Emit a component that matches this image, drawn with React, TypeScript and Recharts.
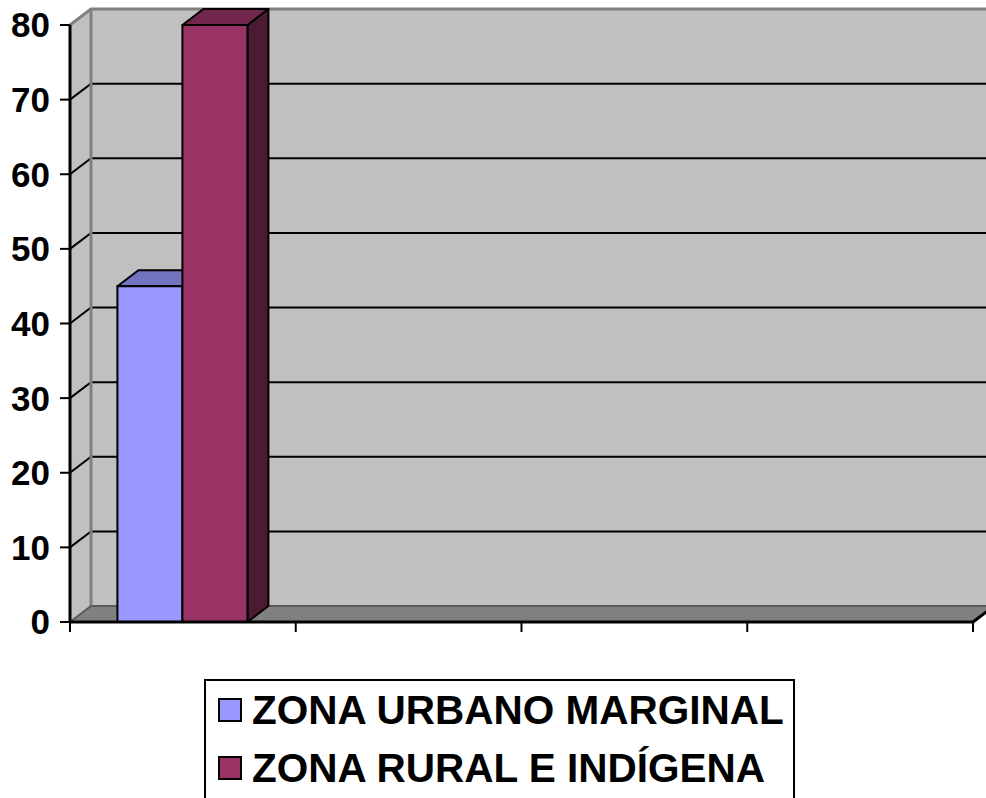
import React from "react";
import {
  BarChart,
  Bar,
  XAxis,
  YAxis,
  ReferenceArea,
  Legend,
} from "recharts";

// chart values
const CATEGORIES = ["c1", "c2", "c3", "c4"];
const URBANO = [45, null, null, null];
const RURAL = [80, null, null, null];
const Y_TICKS = [0, 10, 20, 30, 40, 50, 60, 70, 80];
const SERIES_NAMES = ["ZONA URBANO MARGINAL", "ZONA RURAL E INDÍGENA"];

const data = CATEGORIES.map((name, i) => ({
  name,
  urbano: URBANO[i],
  rural: RURAL[i],
}));

// 3d depth of the chart box
const DX = 21;
const DY = -16;
const FONT = "'Liberation Sans', Arial, sans-serif";

const COLORS = {
  urbano: { front: "#9999ff", top: "#7373bf", side: "#4d4d80" },
  rural: { front: "#993366", top: "#73264d", side: "#4d1a33" },
};

const pts = (arr: number[][]) => arr.map((p) => p.join(",")).join(" ");

const Box3D = (colors: { front: string; top: string; side: string }) =>
  (props: any) => {
    const { x, y, width: w, height: h } = props;
    if (h == null || !w || isNaN(y)) return <g />;
    return (
      <g stroke="#000" strokeWidth={2} strokeLinejoin="round">
        <polygon
          points={pts([
            [x + w, y],
            [x + w + DX, y + DY],
            [x + w + DX, y + h + DY],
            [x + w, y + h],
          ])}
          fill={colors.side}
        />
        <polygon
          points={pts([
            [x, y],
            [x + DX, y + DY],
            [x + w + DX, y + DY],
            [x + w, y],
          ])}
          fill={colors.top}
        />
        <rect x={x} y={y} width={w} height={h} fill={colors.front} />
      </g>
    );
  };

// back wall, side wall, floor, gridlines and category boundary ticks
const Walls = (props: any) => {
  const { x, y, width: w, height: h } = props;
  if (x == null || y == null) return <g />;
  const ymax = Y_TICKS[Y_TICKS.length - 1];
  const py = (v: number) => y + h * (1 - v / ymax);
  const n = CATEGORIES.length;
  return (
    <g>
      <rect x={x + DX} y={y + DY} width={w} height={h} fill="#c0c0c0" />
      <polygon
        points={pts([
          [x, y],
          [x + DX, y + DY],
          [x + DX, y + h + DY],
          [x, y + h],
        ])}
        fill="#c0c0c0"
      />
      <polygon
        points={pts([
          [x, y + h],
          [x + DX, y + h + DY],
          [x + w + DX, y + h + DY],
          [x + w, y + h],
        ])}
        fill="#808080"
      />
      {Y_TICKS.slice(1, -1).map((v) => (
        <polyline
          key={v}
          points={pts([
            [x, py(v)],
            [x + DX, py(v) + DY],
            [x + w + DX, py(v) + DY],
          ])}
          fill="none"
          stroke="#000"
          strokeWidth={2}
        />
      ))}
      {/* wall edges */}
      <polyline
        points={pts([
          [x, y],
          [x + DX, y + DY],
          [x + w + DX, y + DY],
        ])}
        fill="none"
        stroke="#808080"
        strokeWidth={3}
      />
      <line
        x1={x + DX}
        y1={y + DY}
        x2={x + DX}
        y2={y + h + DY}
        stroke="#808080"
        strokeWidth={3}
      />
      <polyline
        points={pts([
          [x, y + h],
          [x + DX, y + h + DY],
          [x + w + DX, y + h + DY],
        ])}
        fill="none"
        stroke="#5a5a5a"
        strokeWidth={2}
      />
      <line
        x1={x + w}
        y1={y + h}
        x2={x + w + DX}
        y2={y + h + DY}
        stroke="#000"
        strokeWidth={3}
      />
      {Array.from({ length: n + 1 }, (_, k) => (
        <line
          key={k}
          x1={x + (w * k) / n}
          y1={y + h}
          x2={x + (w * k) / n}
          y2={y + h + 10}
          stroke="#000"
          strokeWidth={2}
        />
      ))}
    </g>
  );
};

const LegendBox = (props: any) => {
  const payload = [...(props.payload || [])].sort(
    (a: any, b: any) =>
      SERIES_NAMES.indexOf(a.value) - SERIES_NAMES.indexOf(b.value)
  );
  return (
    <div
      style={{
        border: "2px solid #000",
        background: "#fff",
        height: 140,
        boxSizing: "border-box",
        padding: "0 0 0 12px",
        fontFamily: FONT,
      }}
    >
      {payload.map((entry: any) => (
        <div
          key={entry.value}
          style={{ display: "flex", alignItems: "center", height: 58 }}
        >
          <span
            style={{
              width: 20,
              height: 20,
              background: entry.color,
              border: "2px solid #000",
              marginRight: 10,
              flexShrink: 0,
            }}
          />
          <span
            style={{
              fontSize: 40.5,
              fontWeight: "bold",
              color: "#000",
              whiteSpace: "nowrap",
            }}
          >
            {entry.value}
          </span>
        </div>
      ))}
    </div>
  );
};

export default function App() {
  return (
    <div
      style={{
        position: "absolute",
        left: 0,
        top: 0,
        width: 986,
        height: 798,
        overflow: "hidden",
        background: "#fff",
      }}
    >
      <BarChart
        width={986}
        height={798}
        data={data}
        margin={{ top: 25, right: 13, left: 0, bottom: 146 }}
        barCategoryGap="21%"
        barGap={0}
      >
        <XAxis
          dataKey="name"
          height={30}
          tick={false}
          tickLine={false}
          axisLine={{ stroke: "#000", strokeWidth: 3 }}
        />
        <YAxis
          width={70}
          domain={[0, 80]}
          ticks={Y_TICKS}
          tickSize={10}
          tickMargin={10}
          axisLine={{ stroke: "#000", strokeWidth: 3 }}
          tickLine={{ stroke: "#000", strokeWidth: 2 }}
          tick={{
            fill: "#000",
            fontSize: 35,
            fontWeight: "bold",
            fontFamily: FONT,
          }}
        />
        <ReferenceArea
          y1={0}
          y2={80}
          ifOverflow="visible"
          shape={Walls}
        />
        <Bar
          dataKey="urbano"
          name={SERIES_NAMES[0]}
          fill={COLORS.urbano.front}
          shape={Box3D(COLORS.urbano)}
          isAnimationActive={false}
        />
        <Bar
          dataKey="rural"
          name={SERIES_NAMES[1]}
          fill={COLORS.rural.front}
          shape={Box3D(COLORS.rural)}
          isAnimationActive={false}
        />
        <Legend
          layout="vertical"
          align="center"
          verticalAlign="middle"
          wrapperStyle={{ left: 204, top: 679, width: 591 }}
          content={<LegendBox />}
        />
      </BarChart>
    </div>
  );
}
